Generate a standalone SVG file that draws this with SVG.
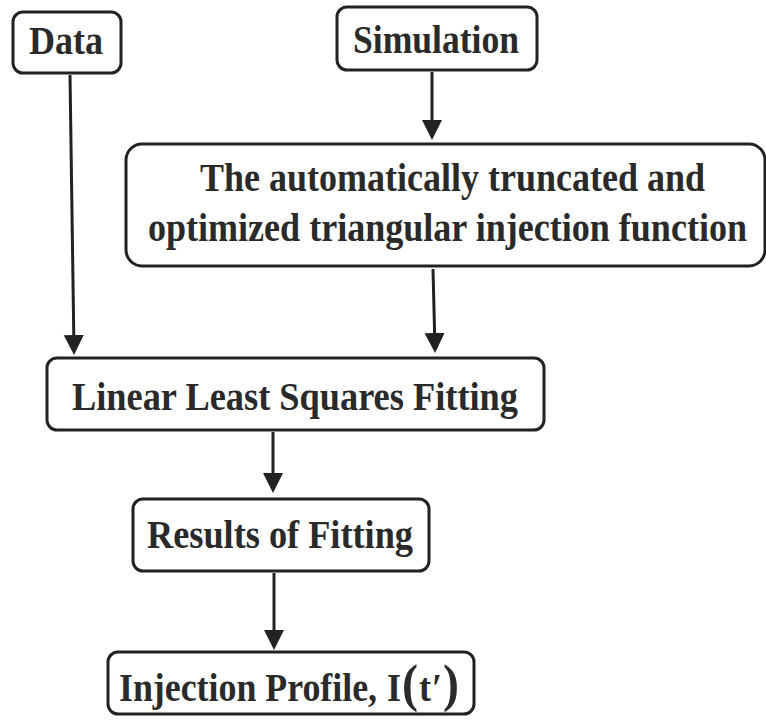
<svg xmlns="http://www.w3.org/2000/svg" width="766" height="723" viewBox="0 0 766 723">
  <style>
    .box { fill: #ffffff; stroke: #222222; stroke-width: 3; }
    .lbl { font-family: "Liberation Serif", "Times New Roman", serif; font-weight: bold; font-size: 36px; fill: #2a2a2a; }
    .conn { fill: none; stroke: #222222; stroke-width: 3; }
  </style>
  <defs>
    <marker id="ah" markerWidth="22" markerHeight="22" refX="16" refY="11" orient="auto" markerUnits="userSpaceOnUse">
      <path d="M0,1 L20,11 L0,21 Z" fill="#222222"/>
    </marker>
  </defs>
  <rect width="766" height="723" fill="#ffffff"/>

  <g id="connectors">
    <path class="conn" d="M432,72 L432,136" marker-end="url(#ah)"/>
    <path class="conn" d="M70,75 L74,351" marker-end="url(#ah)"/>
    <path class="conn" d="M433,269 L435,349" marker-end="url(#ah)"/>
    <path class="conn" d="M273,432 L273,489" marker-end="url(#ah)"/>
    <path class="conn" d="M274,573 L274,646" marker-end="url(#ah)"/>
  </g>

  <g id="data">
    <rect class="box" x="13" y="12" width="108" height="61" rx="10"/>
    <text class="lbl" transform="translate(29,54) scale(1,1.1)" textLength="74" lengthAdjust="spacingAndGlyphs">Data</text>
  </g>

  <g id="simulation">
    <rect class="box" x="337" y="7" width="200" height="63" rx="10"/>
    <text class="lbl" transform="translate(353,53) scale(1,1.1)" textLength="166" lengthAdjust="spacingAndGlyphs">Simulation</text>
  </g>

  <g id="injection-function">
    <rect class="box" x="126" y="144" width="639" height="122" rx="16"/>
    <text class="lbl" transform="translate(200,191) scale(1,1.1)" textLength="505" lengthAdjust="spacingAndGlyphs">The automatically truncated and</text>
    <text class="lbl" transform="translate(148,241) scale(1,1.1)" textLength="599" lengthAdjust="spacingAndGlyphs">optimized triangular injection function</text>
  </g>

  <g id="fitting">
    <rect class="box" x="47" y="358" width="497" height="72" rx="10"/>
    <text class="lbl" transform="translate(72,410) scale(1,1.1)" textLength="446" lengthAdjust="spacingAndGlyphs">Linear Least Squares Fitting</text>
  </g>

  <g id="results">
    <rect class="box" x="133" y="499" width="296" height="72" rx="10"/>
    <text class="lbl" transform="translate(147,548) scale(1,1.1)" textLength="266" lengthAdjust="spacingAndGlyphs">Results of Fitting</text>
  </g>

  <g id="profile">
    <rect class="box" x="108" y="652" width="366" height="62" rx="10"/>
    <text class="lbl" transform="translate(119,701) scale(1,1.1)" textLength="258" lengthAdjust="spacingAndGlyphs">Injection Profile,</text>
    <text class="lbl" transform="translate(387,701) scale(1,1.1)" font-size="38" letter-spacing="1">I<tspan font-size="48">(</tspan>t′<tspan font-size="48">)</tspan></text>
  </g>
</svg>
